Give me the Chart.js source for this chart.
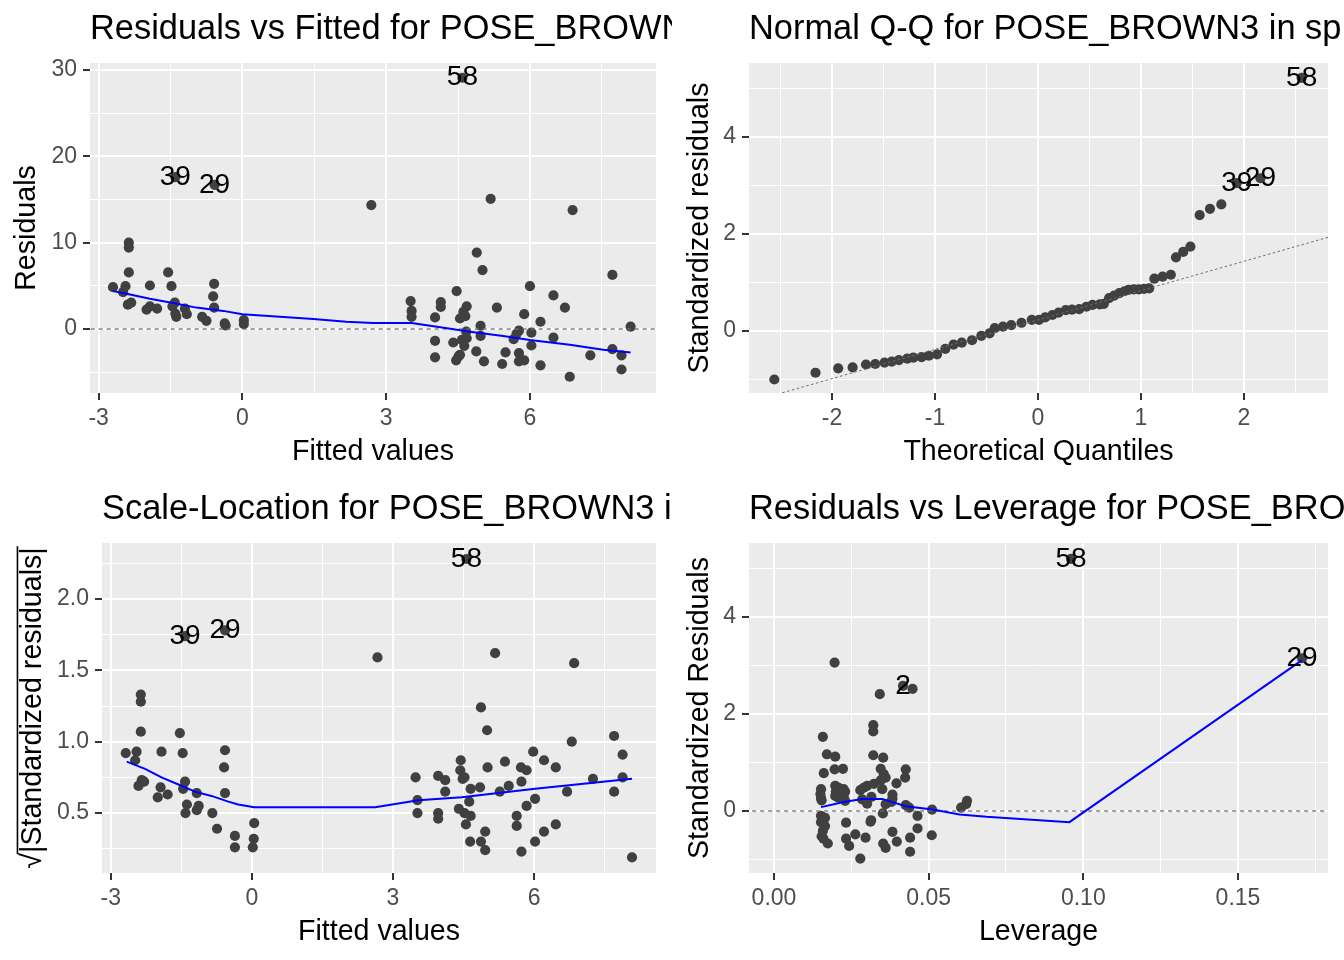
<!DOCTYPE html>
<html>
<head>
<meta charset="utf-8">
<title>Regression diagnostics</title>
<script src="https://cdn.jsdelivr.net/npm/chart.js@4.4.1/dist/chart.umd.min.js"></script>
<style>
html,body{margin:0;padding:0;background:#ffffff;}
#wrap{position:relative;width:1344px;height:960px;overflow:hidden;}
#wrap canvas{position:absolute;}
</style>
</head>
<body>
<div id="wrap">
<canvas id="c1" width="672" height="480" style="left:0;top:0"></canvas>
<canvas id="c2" width="672" height="480" style="left:672px;top:0"></canvas>
<canvas id="c3" width="672" height="480" style="left:0;top:480px"></canvas>
<canvas id="c4" width="672" height="480" style="left:672px;top:480px"></canvas>
</div>
<script>
// ---------------- Panel 1: Residuals vs Fitted ----------------
const rvfFitted = [-2.70,-2.49,-2.44,-2.37,-2.37,-2.37,-2.39,-2.32,-2.00,-1.93,-1.93,-1.78,-1.55,-1.48,-1.41,-1.46,-1.40,-1.38,-1.20,-1.16,-0.84,-0.75,-0.59,-0.61,-0.59,-0.37,-0.35,0.03,0.03,2.69,
  3.51,3.53,3.53,4.02,4.02,4.02,4.14,4.14,4.47,4.40,4.46,4.51,4.54,4.68,4.61,4.54,4.65,4.67,4.58,4.63,4.68,4.89,5.01,4.97,4.97,4.88,5.04,5.18,5.31,5.49,5.42,5.66,5.72,5.77,5.77,5.77,5.88,5.88,6.00,6.03,6.03,6.22,6.22,6.49,6.49,6.73,6.83,6.89,7.26,7.72,7.72,7.91,7.91,8.10];
const rvfResid = [4.85,4.27,4.96,10.0,9.43,6.56,2.82,3.05,2.25,5.04,2.63,2.37,6.56,4.96,3.05,2.63,1.79,1.41,2.37,1.72,1.41,0.95,5.23,3.78,2.48,0.65,0.42,1.03,0.57,14.35,
  3.24,2.10,1.41,1.34,-1.37,-3.28,3.13,2.56,4.39,-1.56,-3.63,-3.17,-2.98,2.63,1.98,1.22,1.49,-0.31,-1.26,-1.95,-1.07,8.85,6.83,0.38,-0.80,-2.60,-3.74,15.08,2.48,-2.71,-4.05,-1.18,-0.57,-0.19,-2.79,-3.74,-3.63,1.72,4.96,-0.42,-1.91,0.84,-4.20,3.89,-0.99,2.48,-5.53,13.78,-3.05,6.26,-2.33,-3.05,-4.69,0.27];
const rvfLabelText = ['58','39','29'];
const rvfLabelX = [4.59,-1.40,-0.58];
const rvfLabelY = [29.1,17.6,16.7];
const rvfLoessX = [-2.70,-2.42,-1.93,-1.45,-0.96,-0.40,0.00,0.78,1.48,2.17,2.73,3.53,4.06,4.75,5.44,6.00,6.83,7.53,8.10];
const rvfLoessY = [4.39,4.08,3.51,3.02,2.48,2.10,1.72,1.41,1.15,0.84,0.69,0.69,0.27,-0.31,-0.80,-1.26,-1.83,-2.40,-2.71];
const rvfZeroX = [-4, 10];
const rvfZeroY = [0, 0];
const rvfXMajor = [-3,0,3,6], rvfXMinor = [-1.5,1.5,4.5,7.5], rvfXLabels = ['-3','0','3','6'];
const rvfYMajor = [0,10,20,30], rvfYMinor = [-5,5,15,25], rvfYLabels = ['0','10','20','30'];

// ---------------- Panel 2: Normal Q-Q ----------------
const qqTheoretical = [-2.56,-2.16,-1.94,-1.80,-1.67,-1.58,-1.49,-1.42,-1.35,-1.27,-1.21,-1.13,-1.06,-0.98,-0.90,-0.82,-0.74,-0.64,-0.55,-0.47,-0.42,-0.34,-0.26,-0.16,-0.06,0.01,0.07,0.14,0.20,0.27,0.33,0.40,0.47,0.53,0.60,0.64,0.69,0.74,0.79,0.84,0.88,0.93,0.98,1.03,1.08,1.13,1.21,1.29,1.34,1.41,1.48,1.57,1.67,1.78];
const qqStdResid = [-1.00,-0.86,-0.77,-0.75,-0.69,-0.68,-0.65,-0.63,-0.60,-0.57,-0.55,-0.54,-0.51,-0.48,-0.37,-0.28,-0.24,-0.19,-0.10,-0.05,0.06,0.09,0.12,0.17,0.23,0.23,0.28,0.33,0.38,0.43,0.44,0.45,0.50,0.54,0.55,0.56,0.68,0.73,0.78,0.82,0.85,0.86,0.86,0.87,0.88,1.08,1.12,1.16,1.52,1.63,1.74,2.39,2.52,2.61];
const qqLabelText = ['39','29','58'];
const qqLabelX = [1.93,2.16,2.56];
const qqLabelY = [3.05,3.15,5.22];
const qqLineX = [-2.81, 2.82];
const qqLineY = [-1.472, 1.934];
const qqXMajor = [-2,-1,0,1,2], qqXMinor = [-2.5,-1.5,-0.5,0.5,1.5,2.5], qqXLabels = ['-2','-1','0','1','2'];
const qqYMajor = [0,2,4], qqYMinor = [-1,1,3,5], qqYLabels = ['0','2','4'];

// ---------------- Panel 3: Scale-Location ----------------
const slFitted = [-2.68,-2.45,-2.48,-2.36,-2.36,-2.36,-2.34,-2.29,-2.41,-1.92,-1.94,-2.00,-1.79,-1.53,-1.47,-1.42,-1.46,-1.17,-1.38,-1.41,-1.13,-1.17,-0.84,-0.74,-0.57,-0.59,-0.57,-0.36,-0.36,0.05,0.04,0.02,2.67,
  5.17,4.87,5.00,6.85,6.80,7.70,7.88,7.88,7.70,8.08,7.25,6.70,6.46,6.46,6.21,6.21,5.98,6.02,6.02,5.84,5.72,5.73,5.84,5.63,5.63,5.73,5.46,5.27,5.38,5.01,4.85,4.96,4.87,4.96,4.64,4.44,4.43,4.52,4.48,4.65,4.62,4.40,4.52,4.65,4.55,3.96,4.11,4.11,3.96,3.96,3.48,3.52,3.52];
const slSqrtStd = [0.92,0.93,0.87,1.33,1.28,1.07,0.73,0.72,0.69,0.93,0.68,0.61,0.63,1.06,0.92,0.72,0.67,0.64,0.56,0.50,0.55,0.52,0.50,0.39,0.94,0.82,0.64,0.34,0.26,0.43,0.32,0.26,1.59,
  1.62,1.24,1.08,1.55,1.00,1.04,0.91,0.75,0.65,0.19,0.74,0.65,0.82,0.42,0.87,0.37,0.93,0.60,0.30,0.80,0.82,0.72,0.55,0.48,0.41,0.23,0.69,0.65,0.86,0.82,0.68,0.37,0.30,0.24,0.30,0.87,0.80,0.75,0.74,0.67,0.58,0.53,0.50,0.48,0.42,0.76,0.73,0.65,0.50,0.46,0.75,0.59,0.50];
const slLabelText = ['58','39','29'];
const slLabelX = [4.56,-1.42,-0.57];
const slLabelY = [2.28,1.74,1.78];
const slLoessX = [-2.66,-2.27,-1.92,-1.56,-1.21,-0.86,-0.50,-0.29,0.05,2.62,3.54,4.46,6.02,8.08];
const slLoessY = [0.86,0.81,0.75,0.70,0.65,0.62,0.58,0.56,0.54,0.54,0.59,0.61,0.67,0.74];
const slXMajor = [-3,0,3,6], slXMinor = [-1.5,1.5,4.5,7.5], slXLabels = ['-3','0','3','6'];
const slYMajor = [0.5,1.0,1.5,2.0], slYMinor = [0.25,0.75,1.25,1.75,2.25], slYLabels = ['0.5','1.0','1.5','2.0'];

// ---------------- Panel 4: Residuals vs Leverage ----------------
const rvlLeverage = [0.0196,0.0342,0.0448,0.0158,0.0321,0.0321,0.0171,0.0198,0.0321,0.0353,0.0161,0.0196,0.0223,0.0345,0.0355,0.0361,0.0345,0.0426,0.0424,0.0396,0.0152,0.0152,0.0154,0.0198,0.0209,0.0225,0.0230,0.0198,0.0209,0.0230,0.0279,0.0301,0.0323,0.0350,0.0383,0.0285,0.0301,0.0315,0.0361,0.0383,0.0426,0.0437,0.0511,0.0605,0.0621,0.0624,0.0152,0.0165,0.0152,0.0165,0.0158,0.0154,0.0160,0.0174,0.0233,0.0233,0.0243,0.0263,0.0296,0.0279,0.0314,0.0312,0.0352,0.0353,0.0361,0.0383,0.0397,0.0440,0.0440,0.0464,0.0464,0.0510,
  0.0210,0.0225,0.0200,0.0150,0.0290,0.0380];
const rvlStdResid = [3.06,2.41,2.52,1.53,1.77,1.64,1.17,1.12,1.15,1.10,0.78,0.86,0.87,0.87,0.76,0.69,0.63,0.86,0.69,0.57,0.45,0.27,0.22,0.52,0.48,0.45,0.40,0.31,0.27,0.21,0.43,0.52,0.56,0.45,0.34,0.24,0.15,0.29,0.14,0.26,0.12,0.07,0.03,0.07,0.14,0.21,-0.10,-0.14,-0.23,-0.31,-0.41,-0.52,-0.57,-0.67,-0.24,-0.57,-0.72,-0.48,-0.55,-0.98,-0.19,-0.22,-0.05,-0.67,-0.76,-0.43,-0.63,-0.55,-0.84,-0.10,-0.36,-0.50,
  0.38,0.30,0.40,0.35,0.48,0.19];
const rvlLabelText = ['58','2','29'];
const rvlLabelX = [0.0960,0.0417,0.1707];
const rvlLabelY = [5.20,2.58,3.15];
const rvlLoessX = [0.0152,0.0230,0.0285,0.0350,0.0426,0.0513,0.0600,0.0687,0.0955,0.1707];
const rvlLoessY = [0.08,0.19,0.25,0.25,0.10,0.03,-0.07,-0.12,-0.23,3.11];
const rvlZeroX = [-0.02, 0.2];
const rvlZeroY = [0, 0];
const rvlXMajor = [0,0.05,0.10,0.15], rvlXMinor = [0.025,0.075,0.125,0.175], rvlXLabels = ['0.00','0.05','0.10','0.15'];
const rvlYMajor = [0,2,4], rvlYMinor = [-1,1,3,5], rvlYLabels = ['0','2','4'];

// ---------------- rendering ----------------
const FAMILY = "'Liberation Sans', Arial, Helvetica, sans-serif";
Chart.defaults.font.family = FAMILY;
Chart.defaults.color = '#4D4D4D';
const FONT_TITLE = 34.4, FONT_AXIS = 28.6, FONT_TICK = 23, FONT_LABEL = 28;
const POINT_COLOR = '#404040';

function pts(xs, ys) { return xs.map((x, i) => ({x: x, y: ys[i]})); }
function near(a, b) { return Math.abs(a - b) < 1e-9; }

function scaleCfg(p) {
  const all = p.major.concat(p.minor).sort((a, b) => a - b);
  const isMaj = v => p.major.some(m => near(m, v));
  const lab = v => { const i = p.major.findIndex(m => near(m, v)); return i >= 0 ? p.labels[i] : ''; };
  const isY = p.axis === 'y';
  return {
    type: 'linear',
    position: isY ? 'left' : 'bottom',
    min: p.min, max: p.max, bounds: 'data', grace: 0,
    afterBuildTicks: s => { s.ticks = all.map(v => ({value: v})); },
    afterFit: s => { if (isY) s.width = p.size; else s.height = p.size; },
    ticks: {
      autoSkip: false, maxRotation: 0, minRotation: 0,
      padding: isY ? 6 : 5, color: '#4D4D4D', font: {size: FONT_TICK},
      callback: v => lab(v)
    },
    grid: {
      color: '#FFFFFF',
      lineWidth: c => (c.tick && isMaj(c.tick.value)) ? 2 : 1,
      drawTicks: true, tickLength: 7, tickWidth: 2,
      tickColor: c => (c.tick && isMaj(c.tick.value)) ? '#333333' : 'rgba(0,0,0,0)'
    },
    border: {display: false},
    title: {
      display: true, text: p.title, color: '#000000', font: {size: FONT_AXIS},
      padding: isY ? {top: p.tpad, bottom: 0} : {top: 0, bottom: p.tpad}
    }
  };
}

const bgPlugin = {
  id: 'panelBg',
  beforeDraw(chart) {
    const a = chart.chartArea, ctx = chart.ctx;
    ctx.save(); ctx.fillStyle = '#EBEBEB';
    ctx.fillRect(a.left, a.top, a.right - a.left, a.bottom - a.top);
    ctx.restore();
  }
};

// panel title, left-aligned with the panel and clipped by the canvas edge (not squeezed)
function titlePlugin(text) {
  return {
    id: 'panelTitle',
    afterDraw(chart) {
      const ctx = chart.ctx;
      ctx.save();
      ctx.font = FONT_TITLE + 'px ' + FAMILY;
      ctx.fillStyle = '#000000';
      ctx.textAlign = 'left';
      ctx.textBaseline = 'middle';
      ctx.fillText(text, chart.chartArea.left, 29.5);
      ctx.restore();
    }
  };
}

function labelPlugin(texts, xs, ys) {
  return {
    id: 'pointLabels',
    afterDatasetsDraw(chart) {
      const ctx = chart.ctx, sx = chart.scales.x, sy = chart.scales.y;
      ctx.save();
      ctx.font = FONT_LABEL + 'px ' + FAMILY;
      ctx.fillStyle = '#000000';
      ctx.textAlign = 'center';
      ctx.textBaseline = 'middle';
      texts.forEach((t, i) => {
        ctx.fillText(t, sx.getPixelForValue(xs[i]), sy.getPixelForValue(ys[i]));
      });
      ctx.restore();
    }
  };
}

const overlinePlugin = {
  id: 'sqrtOverline',
  afterDraw(chart) {
    const s = chart.scales.y, t = s.options.title, ctx = chart.ctx;
    const lh = FONT_AXIS * 1.2;
    const xc = s.left + lh / 2 + t.padding.top;
    const yc = (s.top + s.bottom) / 2;
    ctx.save();
    ctx.font = FONT_AXIS + 'px ' + FAMILY;
    const full = ctx.measureText(t.text).width;
    const sq = ctx.measureText('\u221A').width;
    ctx.translate(xc, yc);
    ctx.rotate(-Math.PI / 2);
    ctx.strokeStyle = '#000000';
    ctx.lineWidth = 1.6;
    ctx.beginPath();
    ctx.moveTo(-full / 2 + sq * 0.92, -15.5);
    ctx.lineTo(full / 2 + 1, -15.5);
    ctx.stroke();
    ctx.restore();
  }
};

function lineDs(xs, ys, color, width, dash) {
  return {data: pts(xs, ys), showLine: true, borderColor: color, borderWidth: width,
          borderDash: dash || [], pointRadius: 0, fill: false, tension: 0};
}
function pointDs(xs, ys) {
  return {data: pts(xs, ys), showLine: false, pointRadius: 5.1, pointBorderWidth: 0,
          backgroundColor: POINT_COLOR, borderColor: POINT_COLOR, pointStyle: 'circle'};
}

function makeChart(id, cfg) {
  const plugins = [bgPlugin, labelPlugin(cfg.labelText, cfg.labelX, cfg.labelY), titlePlugin(cfg.title)].concat(cfg.extraPlugins || []);
  return new Chart(document.getElementById(id), {
    type: 'scatter',
    data: {datasets: cfg.datasets},
    options: {
      responsive: false, animation: false, devicePixelRatio: 1, events: [],
      layout: {padding: {top: 63, right: 16, bottom: 0, left: 0}},
      plugins: {
        legend: {display: false},
        tooltip: {enabled: false},
        title: {display: false, text: cfg.title}
      },
      scales: {x: scaleCfg(cfg.x), y: scaleCfg(cfg.y)}
    },
    plugins: plugins
  });
}

// Panel 1
makeChart('c1', {
  title: 'Residuals vs Fitted for POSE_BROWN3 in sp',
  datasets: [
    lineDs(rvfLoessX, rvfLoessY, '#0000FF', 2),
    lineDs(rvfZeroX, rvfZeroY, '#6E6E6E', 1.3, [4, 4]),
    pointDs(rvfLabelX, rvfLabelY),
    pointDs(rvfFitted, rvfResid)
  ],
  labelText: rvfLabelText, labelX: rvfLabelX, labelY: rvfLabelY,
  x: {axis: 'x', min: -3.18, max: 8.63, major: rvfXMajor, minor: rvfXMinor, labels: rvfXLabels, size: 87, title: 'Fitted values', tpad: 11},
  y: {axis: 'y', min: -7.41, max: 30.81, major: rvfYMajor, minor: rvfYMinor, labels: rvfYLabels, size: 90, title: 'Residuals', tpad: 9.8}
});

// Panel 2
makeChart('c2', {
  title: 'Normal Q-Q for POSE_BROWN3 in sp',
  datasets: [
    lineDs(qqLineX, qqLineY, '#6E6E6E', 1, [2.5, 2.5]),
    pointDs(qqLabelX, qqLabelY),
    pointDs(qqTheoretical, qqStdResid)
  ],
  labelText: qqLabelText, labelX: qqLabelX, labelY: qqLabelY,
  x: {axis: 'x', min: -2.806, max: 2.816, major: qqXMajor, minor: qqXMinor, labels: qqXLabels, size: 87, title: 'Theoretical Quantiles', tpad: 11},
  y: {axis: 'y', min: -1.278, max: 5.526, major: qqYMajor, minor: qqYMinor, labels: qqYLabels, size: 77, title: 'Standardized residuals', tpad: 10.8}
});

// Panel 3
makeChart('c3', {
  title: 'Scale-Location for POSE_BROWN3 in sp',
  datasets: [
    lineDs(slLoessX, slLoessY, '#0000FF', 2),
    pointDs(slLabelX, slLabelY),
    pointDs(slFitted, slSqrtStd)
  ],
  labelText: slLabelText, labelX: slLabelX, labelY: slLabelY,
  extraPlugins: [overlinePlugin],
  x: {axis: 'x', min: -3.185, max: 8.59, major: slXMajor, minor: slXMinor, labels: slXLabels, size: 87, title: 'Fitted values', tpad: 11},
  y: {axis: 'y', min: 0.080, max: 2.392, major: slYMajor, minor: slYMinor, labels: slYLabels, size: 102, title: '\u221A|Standardized residuals|', tpad: 15.8}
});

// Panel 4
makeChart('c4', {
  title: 'Residuals vs Leverage for POSE_BROWN3 in sp',
  datasets: [
    lineDs(rvlLoessX, rvlLoessY, '#0000FF', 2),
    lineDs(rvlZeroX, rvlZeroY, '#6E6E6E', 1.3, [4, 4]),
    pointDs(rvlLabelX, rvlLabelY),
    pointDs(rvlLeverage, rvlStdResid)
  ],
  labelText: rvlLabelText, labelX: rvlLabelX, labelY: rvlLabelY,
  x: {axis: 'x', min: -0.00808, max: 0.1791, major: rvlXMajor, minor: rvlXMinor, labels: rvlXLabels, size: 87, title: 'Leverage', tpad: 11},
  y: {axis: 'y', min: -1.278, max: 5.526, major: rvlYMajor, minor: rvlYMinor, labels: rvlYLabels, size: 77, title: 'Standardized Residuals', tpad: 10.8}
});
</script>
</body>
</html>
